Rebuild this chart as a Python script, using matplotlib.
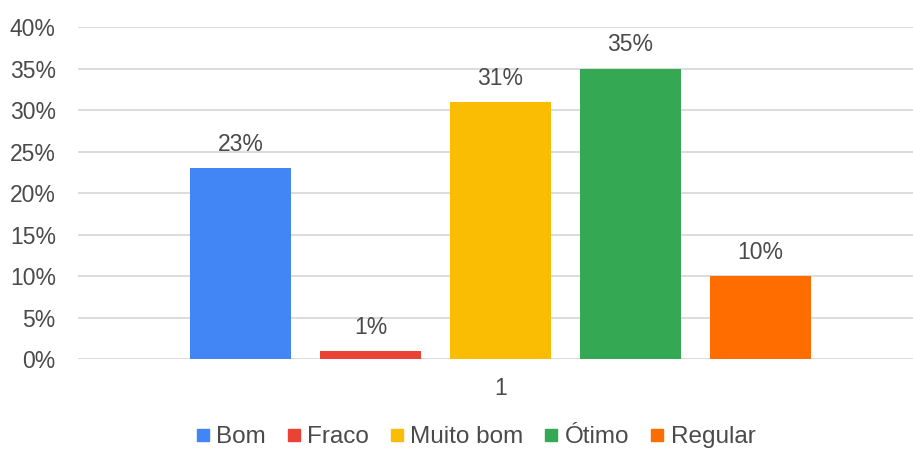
import matplotlib
matplotlib.use("Agg")
import matplotlib.pyplot as plt
from matplotlib.lines import Line2D

categories = ["Bom", "Fraco", "Muito bom", "Ótimo", "Regular"]
values = [23, 1, 31, 35, 10]
colors = ["#4285F4", "#EA4335", "#FBBC04", "#34A853", "#FF6D01"]
yticks = [0, 5, 10, 15, 20, 25, 30, 35, 40]
group_label = "1"

plt.rcParams['font.family'] = ['Liberation Sans', 'DejaVu Sans']
text_color = "#4a4a4a"

W, H = 913, 450
fig = plt.figure(figsize=(W / 100, H / 100), dpi=100)
left_px, right_px = 78, 913
top_px, bottom_px = 27.3, 359.3
ax = fig.add_axes([left_px / W, 1 - bottom_px / H, (right_px - left_px) / W, (bottom_px - top_px) / H])

step = 130.0
center_px = 500.5
n = len(values)
xs = [i - (n - 1) / 2 for i in range(n)]
width = 101 / step
bars = ax.bar(xs, values, width=width, color=colors, zorder=3)
for x, v in zip(xs, values):
    ax.annotate(f"{v}%", (x, v), xytext=(0, 9), textcoords="offset points",
                ha="center", va="bottom", fontsize=16.5, color=text_color)

ax.set_xlim((left_px - center_px) / step, (right_px - center_px) / step)
ax.set_ylim(0, 40)
ax.set_yticks(yticks)
ax.set_yticklabels([f"{t}%" for t in yticks], fontsize=16.5, color=text_color)
ax.set_xticks([0])
ax.set_xticklabels([group_label], fontsize=16.5, color=text_color)
ax.tick_params(axis="both", length=0)
ax.tick_params(axis="y", pad=16)
ax.tick_params(axis="x", pad=13)
ax.grid(axis="y", color="#d9d9d9", linewidth=1.3, zorder=0)
for s in ax.spines.values():
    s.set_visible(False)

handles = [Line2D([0], [0], marker="s", linestyle="", markersize=8,
                  markerfacecolor=c, markeredgecolor=c) for c in colors]
leg = fig.legend(handles, categories, loc="center", ncol=5,
                 bbox_to_anchor=(476 / W, 1 - 437 / H), frameon=False, fontsize=17.5,
                 handletextpad=0.3, columnspacing=0.9, handlelength=0.5,
                 borderpad=0, borderaxespad=0)
for t in leg.get_texts():
    t.set_color(text_color)

fig.savefig("out.png", dpi=100)
